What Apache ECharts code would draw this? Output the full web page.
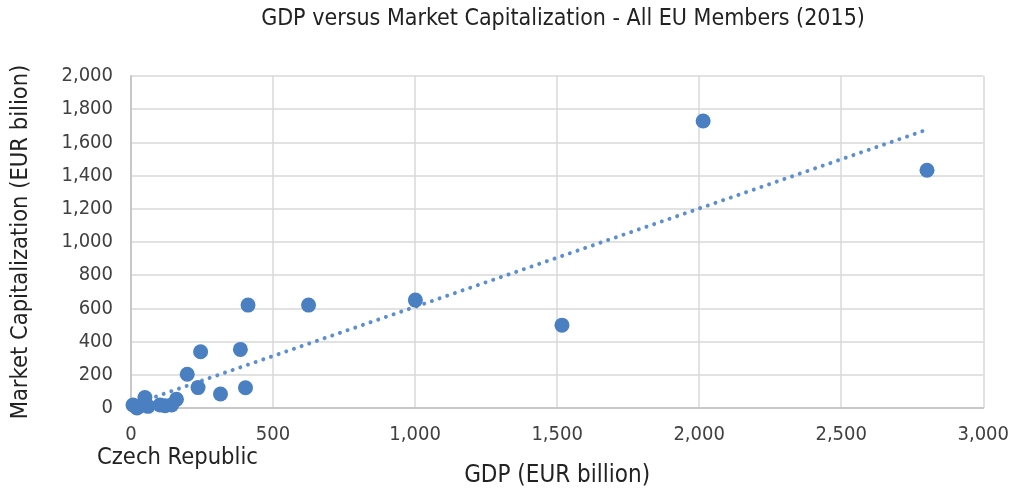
<!DOCTYPE html>
<html>
<head>
<meta charset="utf-8">
<script src="https://cdn.jsdelivr.net/npm/echarts@6/dist/echarts.min.js"></script>
<style>
  html, body { margin: 0; padding: 0; background: #fff; }
  #chart { width: 1012px; height: 495px; }
</style>
</head>
<body>
<div id="chart"></div>
<script>
// GDP (EUR billion) and market capitalization (EUR billion)
var gdp = [2014, 2802, 1001, 1517, 625, 412, 245, 385, 198, 236, 315, 403, 160, 143, 102, 49, 32, 7, 21, 60, 120];
var marketCap = [1729, 1432, 650, 499, 620, 620, 339, 353, 203, 123, 84, 122, 52, 18, 18, 63, 12, 18, 0, 10, 14];

// trendline ends, as drawn in the picture
var trendX = [7, 2802];
var trendY = [21, 1677];

var FONT = '"DejaVu Sans Condensed", "Liberation Sans Narrow", sans-serif';

var points = gdp.map(function (g, i) { return [g, marketCap[i]]; });
var trend = trendX.map(function (x, i) { return [x, trendY[i]]; });

var chart = echarts.init(document.getElementById('chart'));
chart.setOption({
  animation: false,
  title: [
    {
      text: 'GDP versus Market Capitalization - All EU Members (2015)',
      left: 558,
      textAlign: 'center',
      top: 3,
      textStyle: { fontFamily: FONT, fontSize: 23, fontWeight: 'normal', color: '#222' }
    },
    {
      text: 'Czech Republic',
      left: 92,
      top: 441,
      textStyle: { fontFamily: FONT, fontSize: 23.5, fontWeight: 'normal', color: '#222' }
    }
  ],
  grid: { left: 131, right: 27, top: 76, bottom: 87 },
  xAxis: {
    type: 'value',
    min: 0,
    max: 3000,
    interval: 500,
    name: 'GDP (EUR billion)',
    nameLocation: 'middle',
    nameGap: 56,
    nameTextStyle: { fontFamily: FONT, fontSize: 24, color: '#222' },
    axisLine: { show: true, lineStyle: { color: '#c8c8c8', width: 2 } },
    axisTick: { show: false },
    axisLabel: {
      fontFamily: FONT, fontSize: 20, color: '#404040', margin: 17,
      formatter: function (v) { return v.toLocaleString('en-US'); }
    },
    splitLine: { show: true, lineStyle: { color: '#d9d9d9', width: 1.5 } }
  },
  yAxis: {
    type: 'value',
    min: 0,
    max: 2000,
    interval: 200,
    name: 'Market Capitalization (EUR bilion)',
    nameLocation: 'middle',
    nameGap: 98,
    nameTextStyle: { fontFamily: FONT, fontSize: 23.5, color: '#222' },
    axisLine: { show: true, lineStyle: { color: '#c8c8c8', width: 2 } },
    axisTick: { show: false },
    axisLabel: {
      fontFamily: FONT, fontSize: 20, color: '#404040', margin: 18,
      formatter: function (v) { return v.toLocaleString('en-US'); }
    },
    splitLine: { show: true, lineStyle: { color: '#d9d9d9', width: 1.5 } }
  },
  series: [
    {
      name: 'Trend',
      type: 'line',
      data: trend,
      symbol: 'none',
      z: 1,
      lineStyle: { color: '#5b8fd0', width: 4, type: [0.01, 8.1], cap: 'round' }
    },
    {
      name: 'EU members',
      type: 'scatter',
      data: points,
      symbolSize: 15,
      z: 2,
      itemStyle: { color: '#4a7fc1', opacity: 1 }
    }
  ]
});
</script>
</body>
</html>
